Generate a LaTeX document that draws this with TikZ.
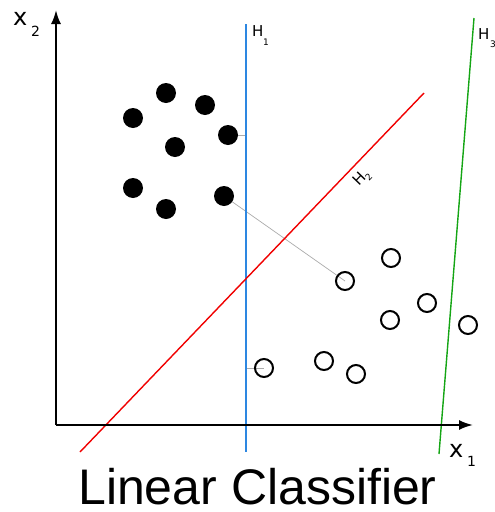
\documentclass[tikz,border=0pt]{standalone}
\usepackage{fontspec}
\setmainfont{DejaVu Sans}
\newfontfamily\titlefont{Liberation Sans}
\usetikzlibrary{arrows.meta}
\definecolor{hblue}{RGB}{45,135,225}
\definecolor{hgreen}{RGB}{20,165,20}
\definecolor{hred}{RGB}{240,0,0}
\pgfdeclarelayer{back}
\pgfsetlayers{back,main}
\begin{document}
\begin{tikzpicture}[x=1pt,y=-1pt,
  axis/.style={line width=2pt,-{Latex[length=14pt,width=10pt]}},
  filled/.style={circle,fill=black,minimum size=20pt,inner sep=0pt},
  hollow/.style={circle,draw=black,line width=2pt,minimum size=18pt,inner sep=0pt},
  guide/.style={draw=black!33,line width=0.7pt},
  hyper/.style={line width=1.4pt},
  lab/.style={inner sep=0pt,anchor=base west},
  hlab/.style={inner sep=0pt,font=\fontsize{15}{15}\selectfont}]
\useasboundingbox (0,0) rectangle (495,512);
% coordinates
\coordinate (O) at (56,425);
\coordinate (ytop) at (56,10);
\coordinate (xend) at (473,425);
\coordinate (h1t) at (246,24);
\coordinate (h1b) at (246,452);
\coordinate (h1a) at (246,135);
\coordinate (h1c) at (246,368);
\coordinate (h2b) at (80,452);
\coordinate (h2t) at (424,93);
\coordinate (h3b) at (439,454);
\coordinate (h3t) at (474,18);
% points
\node[filled] (f1) at (166,93) {};
\node[filled] (f2) at (205,105) {};
\node[filled] (f3) at (133,118) {};
\node[filled] (f4) at (228,135) {};
\node[filled] (f5) at (175,147) {};
\node[filled] (f6) at (133,188) {};
\node[filled] (f7) at (166,209) {};
\node[filled] (f8) at (224,196) {};
\node[hollow] (o1) at (391,258) {};
\node[hollow] (o2) at (345,281) {};
\node[hollow] (o3) at (427,303) {};
\node[hollow] (o4) at (390,320) {};
\node[hollow] (o5) at (468,325) {};
\node[hollow] (o6) at (264,368) {};
\node[hollow] (o7) at (324,361) {};
\node[hollow] (o8) at (356,374) {};
% guides
\begin{pgfonlayer}{back}
\draw[guide] (f4.center) -- (h1a);
\draw[guide] (h1c) -- (o6.center);
\draw[guide] (f8.center) -- (o2.center);
\end{pgfonlayer}
% hyperplanes
\draw[hyper,hblue] (h1t) -- (h1b);
\draw[hyper,hred] (h2b) -- (h2t);
\draw[hyper,hgreen] (h3b) -- (h3t);
% axes
\draw[axis] (O) -- (ytop);
\draw[axis] (O) -- (xend);
% labels
\node[lab,font=\fontsize{24}{24}\selectfont] (x2) at (13,25) {x};
\node[lab,font=\fontsize{14}{14}\selectfont] (x2s) at (31,36) {2};
\node[lab,font=\fontsize{24}{24}\selectfont] (x1) at (449,457) {x};
\node[lab,font=\fontsize{14}{14}\selectfont] (x1s) at (467,466) {1};
\node[hlab,anchor=base west] (H1) at (252,36) {H};
\node[lab,font=\fontsize{9}{9}\selectfont] (H1s) at (263,45) {1};
\node[hlab,anchor=base west] (H3) at (478,39) {H};
\node[lab,font=\fontsize{9}{9}\selectfont] (H3s) at (490,47) {3};
\node[hlab,rotate=46] (H2) at (362,178) {H\raisebox{-3.5pt}{\fontsize{9}{9}\selectfont 2}};
\node[inner sep=0pt,anchor=base,font=\titlefont\fontsize{50}{50}\selectfont] (title) at (257.5,504) {Linear Classifier};
\end{tikzpicture}
\end{document}
